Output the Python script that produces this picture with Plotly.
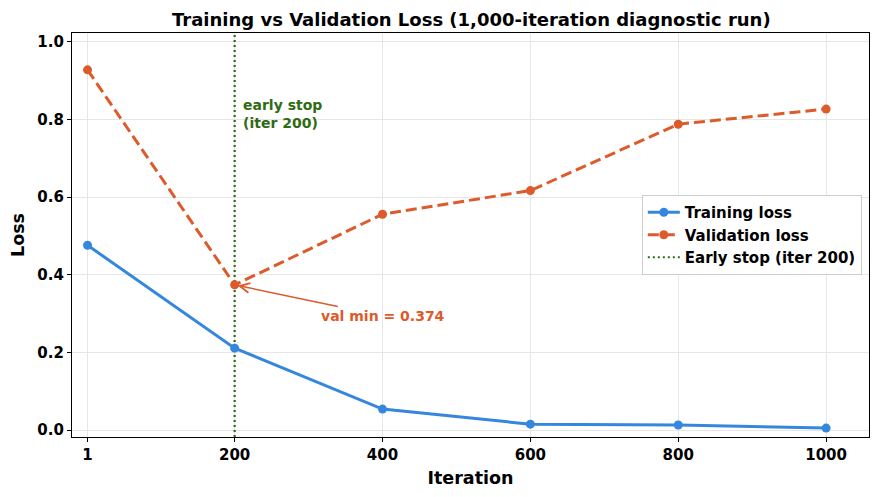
import plotly.graph_objects as go

iterations = [1, 200, 400, 600, 800, 1000]
train_loss = [0.476, 0.211, 0.054, 0.015, 0.013, 0.005]
val_loss = [0.928, 0.374, 0.556, 0.617, 0.788, 0.827]
tick_vals = [1, 200, 400, 600, 800, 1000]
tick_text = ["1", "200", "400", "600", "800", "1000"]
early_stop_iter = 200
y_range = [-0.018, 1.023]
x_range = [-20, 1058]

BLUE = "#3587DD"
ORANGE = "#DD5A2B"
GREEN = "#2E6B12"
FONT = "DejaVu Sans"

fig = go.Figure()

fig.add_trace(go.Scatter(
    x=[early_stop_iter, early_stop_iter], y=y_range, mode="lines",
    name="Early stop (iter 200)", legendrank=3,
    line=dict(color=GREEN, width=2.2, dash="2px,3px"),
    hoverinfo="skip",
))
fig.add_trace(go.Scatter(
    x=iterations, y=train_loss, mode="lines+markers", name="Training loss",
    legendrank=1,
    line=dict(color=BLUE, width=3),
    marker=dict(color=BLUE, size=9),
))
fig.add_trace(go.Scatter(
    x=iterations, y=val_loss, mode="lines+markers", name="Validation loss",
    legendrank=2,
    line=dict(color=ORANGE, width=3, dash="11px,5px"),
    marker=dict(color=ORANGE, size=9),
))

min_idx = val_loss.index(min(val_loss))
fig.add_annotation(
    x=iterations[min_idx], y=val_loss[min_idx],
    ax=401, ay=0.294, axref="x", ayref="y",
    text="val min = %.3f" % val_loss[min_idx],
    showarrow=True, arrowhead=5, arrowsize=1.3, arrowwidth=1.5,
    arrowcolor=ORANGE, standoff=3,
    font=dict(family=FONT, size=14, color=ORANGE, weight="bold"),
)
fig.add_annotation(
    x=early_stop_iter + 9, y=0.815, xanchor="left", yanchor="middle",
    text="early stop<br>(iter 200)", showarrow=False, align="left",
    font=dict(family=FONT, size=14, color=GREEN, weight="bold"),
)

axis_common = dict(
    showgrid=True, gridcolor="#E6E6E6", gridwidth=1,
    showline=True, linecolor="black", linewidth=1.2, mirror=True,
    ticks="outside", ticklen=4, tickcolor="black",
    tickfont=dict(family=FONT, size=15, color="black", weight="bold"),
    zeroline=False,
)

fig.update_layout(
    width=881, height=497,
    margin=dict(l=72, r=12, t=33, b=60),
    paper_bgcolor="white", plot_bgcolor="white",
    font=dict(family=FONT, color="black", weight="bold"),
    title=dict(
        text="Training vs Validation Loss (1,000-iteration diagnostic run)",
        x=0.535, xanchor="center", y=0.96, yanchor="middle",
        font=dict(family=FONT, size=18, color="black", weight="bold"),
    ),
    xaxis=dict(range=x_range, tickvals=tick_vals, ticktext=tick_text,
               title=dict(text="Iteration", standoff=8,
                          font=dict(family=FONT, size=17.5, weight="bold")),
               **axis_common),
    yaxis=dict(range=y_range, tickvals=[0, 0.2, 0.4, 0.6, 0.8, 1.0],
               tickformat=".1f",
               title=dict(text="Loss", standoff=8,
                          font=dict(family=FONT, size=17.5, weight="bold")),
               **axis_common),
    legend=dict(
        x=0.991, y=0.5, xanchor="right", yanchor="middle",
        bgcolor="rgba(255,255,255,0.9)", bordercolor="#CCCCCC", borderwidth=1,
        font=dict(family=FONT, size=15, color="black", weight="bold"),
        itemwidth=32, tracegroupgap=3,
    ),
    showlegend=True,
)

fig.write_html("out.html")
